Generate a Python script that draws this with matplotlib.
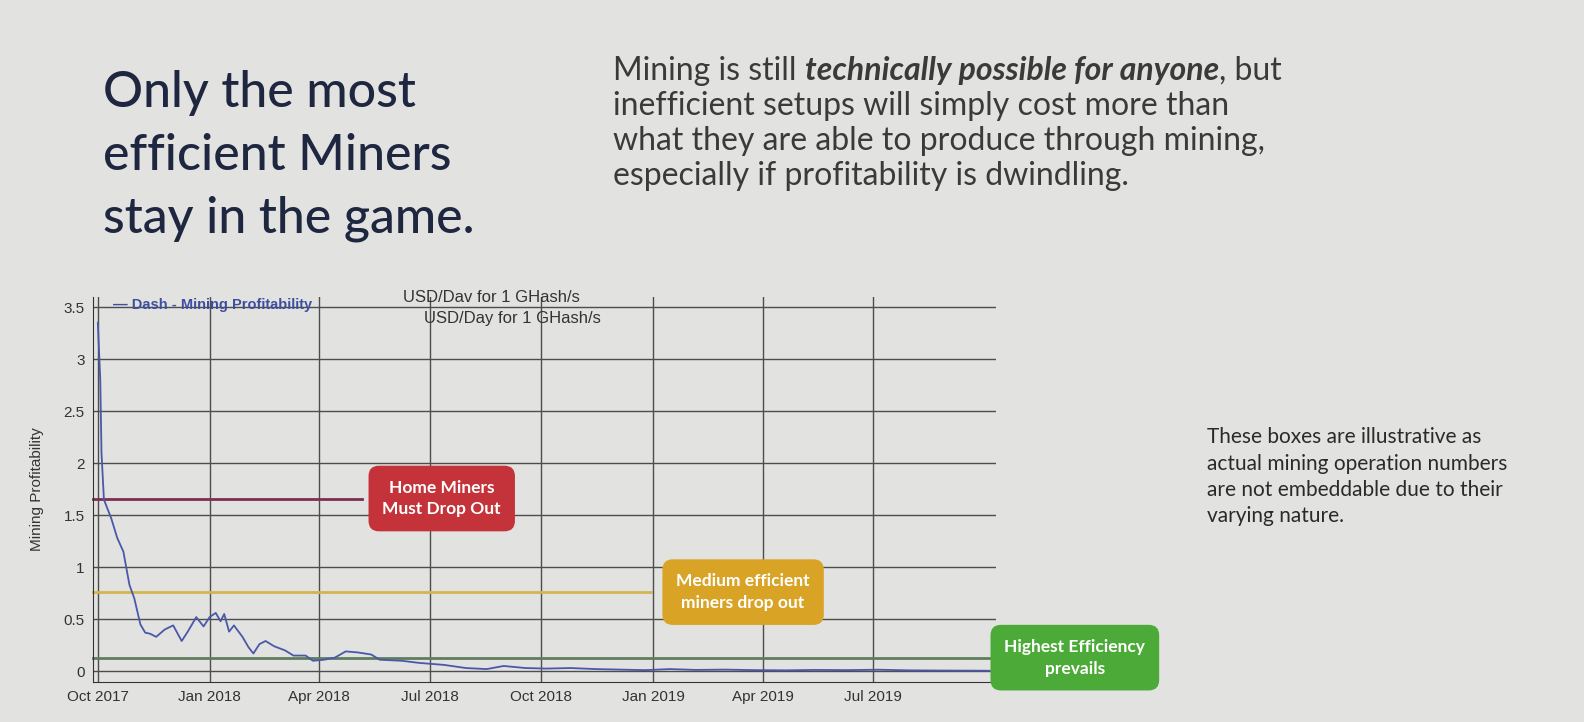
import matplotlib
matplotlib.use("Agg")
import matplotlib.pyplot as plt
from datetime import datetime

# Dash mining profitability, USD/day for 1 GHash/s
dates = ["2017-10-01", "2017-10-03", "2017-10-04", "2017-10-06", "2017-10-12", "2017-10-17",
         "2017-10-22", "2017-10-27", "2017-10-31", "2017-11-05", "2017-11-09", "2017-11-13",
         "2017-11-18", "2017-11-25", "2017-12-02", "2017-12-09", "2017-12-14", "2017-12-21",
         "2017-12-27", "2018-01-01", "2018-01-06", "2018-01-10", "2018-01-13", "2018-01-17",
         "2018-01-21", "2018-01-28", "2018-02-02", "2018-02-06", "2018-02-11", "2018-02-16",
         "2018-02-23", "2018-03-04", "2018-03-11", "2018-03-21", "2018-03-27", "2018-04-05",
         "2018-04-14", "2018-04-23", "2018-05-03", "2018-05-14", "2018-05-21", "2018-06-08",
         "2018-06-22", "2018-07-13", "2018-07-31", "2018-08-17", "2018-08-31", "2018-09-18",
         "2018-10-05", "2018-10-25", "2018-11-15", "2018-12-05", "2018-12-25", "2019-01-15",
         "2019-02-05", "2019-03-01", "2019-03-25", "2019-04-20", "2019-05-15", "2019-06-10",
         "2019-07-05", "2019-07-30", "2019-08-25", "2019-09-20", "2019-10-05"]
profit = [3.35, 2.8, 2.1, 1.65, 1.47, 1.28,
          1.15, 0.83, 0.7, 0.45, 0.37, 0.36,
          0.33, 0.4, 0.44, 0.29, 0.38, 0.52,
          0.43, 0.52, 0.56, 0.48, 0.55, 0.38,
          0.44, 0.33, 0.23, 0.17, 0.26, 0.29,
          0.24, 0.2, 0.15, 0.15, 0.1, 0.11,
          0.13, 0.19, 0.18, 0.16, 0.11, 0.1,
          0.08, 0.06, 0.03, 0.02, 0.05, 0.03,
          0.025, 0.03, 0.02, 0.015, 0.01, 0.02,
          0.012, 0.015, 0.01, 0.008, 0.012, 0.01,
          0.014, 0.008, 0.006, 0.005, 0.004]
assert len(dates) == len(profit)

# illustrative miner tiers
tier_labels = ["Home Miners\nMust Drop Out", "Medium efficient\nminers drop out", "Highest Efficiency\nprevails"]
tier_levels = [1.66, 0.76, 0.13]
tier_line_end = ["2018-05-06", "2018-12-30", "2019-10-10"]
tier_box_x = ["2018-07-11", "2019-03-16", "2019-12-14"]
tier_line_col = ["#7d2e55", "#d4b450", "#5f7d5c"]
tier_box_col = ["#c4323a", "#d9a326", "#4cab38"]

xticks = ["2017-10-01", "2018-01-01", "2018-04-01", "2018-07-01", "2018-10-01",
          "2019-01-01", "2019-04-01", "2019-07-01"]
xtick_labels = ["Oct 2017", "Jan 2018", "Apr 2018", "Jul 2018", "Oct 2018",
                "Jan 2019", "Apr 2019", "Jul 2019"]
yticks = [0, 0.5, 1, 1.5, 2, 2.5, 3, 3.5]

title_lines = ["Only the most", "efficient Miners", "stay in the game."]
para_rest = ["inefficient setups will simply cost more than",
             "what they are able to produce through mining,",
             "especially if profitability is dwindling."]
note_lines = ["These boxes are illustrative as", "actual mining operation numbers",
              "are not embeddable due to their", "varying nature."]

d = lambda s: datetime.strptime(s, "%Y-%m-%d")
H = 722.0

BG = "#e2e2e0"
fig = plt.figure(figsize=(15.84, 7.22), dpi=100, facecolor=BG)

# slide heading, one line at a time on its baseline
for i, line in enumerate(title_lines):
    fig.text(0.065, 1 - (107 + 62.5 * i) / H, line, family="Lato", weight="medium",
             fontsize=36, color="#1e2640", va="baseline", ha="left")

# paragraph with bold italic run
para_font = dict(family="Lato", fontsize=23, color="#3a3a3a", va="baseline", ha="left")
x0 = 0.387
fig.canvas.draw()
r = fig.canvas.get_renderer()
y0 = 1 - 80 / H
t = fig.text(x0, y0, "Mining is still ", **para_font)
w = t.get_window_extent(r).width / fig.bbox.width
t2 = fig.text(x0 + w, y0, "technically possible for anyone", style="italic", weight="bold",
              **para_font)
w2 = t2.get_window_extent(r).width / fig.bbox.width
fig.text(x0 + w + w2, y0, ", but", **para_font)
for i, line in enumerate(para_rest):
    fig.text(x0, 1 - (80 + 35 * (i + 1)) / H, line, **para_font)

# side note
for i, line in enumerate(note_lines):
    fig.text(0.762, 1 - (443 + 26.5 * i) / H, line, family="Lato", fontsize=15,
             color="#2a2a2a", va="baseline", ha="left")

# chart
ax = fig.add_axes([0.0587, 0.056, 0.570, 0.533])
ax.set_facecolor(BG)
ax.set_xlim(d("2017-09-27"), d("2019-10-10"))
ax.set_ylim(-0.1, 3.6)
ax.set_xticks([d(s) for s in xticks])
ax.set_xticklabels(xtick_labels)
ax.set_yticks(yticks)
ax.set_yticklabels([f"{v:g}" for v in yticks])
ax.tick_params(length=0, labelsize=11, colors="#333333", pad=6)
for lab in ax.get_xticklabels() + ax.get_yticklabels():
    lab.set_family("Liberation Sans")
ax.grid(True, color="#4d4d4d", lw=1.0)
ax.set_axisbelow(True)
for s in ["top", "right"]:
    ax.spines[s].set_visible(False)
for s in ["left", "bottom"]:
    ax.spines[s].set_color("#333333")
ax.set_ylabel("Mining Profitability", family="Liberation Sans", fontsize=11, color="#333333",
              labelpad=14)

ax.plot([d(s) for s in dates], profit, color="#4a58a8", lw=1.3, zorder=3)

for lab, lev, end, bx, lc, bc in zip(tier_labels, tier_levels, tier_line_end, tier_box_x,
                                     tier_line_col, tier_box_col):
    ax.plot([d("2017-09-27"), d(end)], [lev, lev], color=lc, lw=2, zorder=2, clip_on=False)
    ax.text(d(bx), lev, lab, ha="center", va="center", family="Lato", weight="bold",
            fontsize=12.5, color="white", linespacing=1.45, zorder=5, clip_on=False,
            bbox=dict(boxstyle="round,pad=0.8,rounding_size=0.6", fc=bc, ec="none"))

ax.text(0.022, 0.979, "— Dash - Mining Profitability", transform=ax.transAxes,
        family="Liberation Sans", weight="bold", fontsize=10.5, color="#3f4fa0",
        va="center", ha="left")
ax.text(0.343, 0.997, "USD/Dav for 1 GHash/s", transform=ax.transAxes,
        family="Liberation Sans", fontsize=12, color="#333333", va="center", ha="left")
ax.text(0.367, 0.944, "USD/Day for 1 GHash/s", transform=ax.transAxes,
        family="Liberation Sans", fontsize=12, color="#333333", va="center", ha="left")

fig.savefig("out.png", dpi=100, facecolor=BG)
